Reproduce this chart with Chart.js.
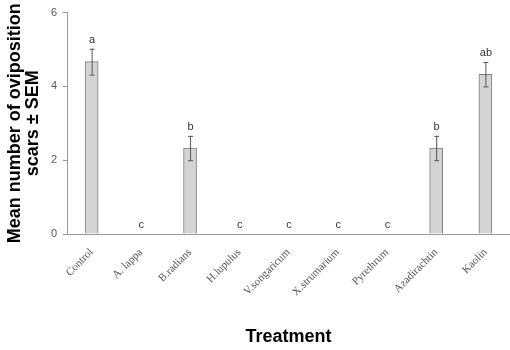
<!DOCTYPE html>
<html lang="en">
<head>
    <meta charset="UTF-8">
    <title>Oviposition scars by treatment</title>
    <script src="https://cdn.jsdelivr.net/npm/chart.js"></script>
    <style>
        body { margin: 0; background: #fff; }
        canvas { display: block; }
    </style>
</head>
<body>
    <canvas id="myChart" width="510" height="350"></canvas>

    <script>
        const treatments = ['Control', 'A. lappa', 'B.radians', 'H.lupulus', 'V.songaricum', 'X.strumarium', 'Pyrethrum', 'Azadirachtin', 'Kaolin'];
        const meanScars = [4.67, 0, 2.33, 0, 0, 0, 0, 2.33, 4.33];
        const semScars = [0.35, 0, 0.33, 0, 0, 0, 0, 0.33, 0.33];
        const groupLetters = ['a', 'c', 'b', 'c', 'c', 'c', 'c', 'b', 'ab'];
        const yTicks = [0, 2, 4, 6];

        // error bars and significance letters
        const errorBars = {
            id: 'errorBars',
            afterDatasetsDraw(chart) {
                const ctx = chart.ctx;
                const y = chart.scales.y;
                const meta = chart.getDatasetMeta(0);
                ctx.save();
                meta.data.forEach((bar, i) => {
                    const x = bar.x;
                    const m = meanScars[i];
                    const s = semScars[i];
                    let top = y.getPixelForValue(m);
                    if (s > 0) {
                        const hi = y.getPixelForValue(m + s);
                        const lo = y.getPixelForValue(m - s);
                        ctx.strokeStyle = '#555';
                        ctx.lineWidth = 1;
                        ctx.beginPath();
                        ctx.moveTo(x + 0.5, hi);
                        ctx.lineTo(x + 0.5, lo);
                        ctx.moveTo(x - 2, hi + 0.5);
                        ctx.lineTo(x + 3, hi + 0.5);
                        ctx.moveTo(x - 2, lo + 0.5);
                        ctx.lineTo(x + 3, lo + 0.5);
                        ctx.stroke();
                        top = hi;
                    }
                    ctx.fillStyle = '#333';
                    ctx.font = '11px "Liberation Sans", Arial, sans-serif';
                    ctx.textAlign = 'center';
                    ctx.textBaseline = 'middle';
                    ctx.fillText(groupLetters[i], x + 0.5, top - 9);
                });
                ctx.restore();
            }
        };

        const ctx = document.getElementById('myChart').getContext('2d');
        new Chart(ctx, {
            type: 'bar',
            data: {
                labels: treatments,
                datasets: [{
                    data: meanScars,
                    backgroundColor: '#d4d4d4',
                    borderColor: '#7f7f7f',
                    borderWidth: 1,
                    barThickness: 13
                }]
            },
            options: {
                responsive: false,
                animation: false,
                layout: { padding: { top: 9, right: 0, left: 0, bottom: 0 } },
                plugins: {
                    legend: { display: false },
                    tooltip: { enabled: false }
                },
                scales: {
                    x: {
                        grid: { display: false },
                        border: { color: '#999' },
                        ticks: {
                            color: '#555',
                            font: { family: '"Liberation Serif", "Times New Roman", serif', size: 11 },
                            minRotation: 45,
                            maxRotation: 45,
                            padding: 4
                        },
                        title: {
                            display: true,
                            text: 'Treatment',
                            color: '#000',
                            font: { family: '"Liberation Sans", Arial, sans-serif', size: 18, weight: 'bold' },
                            padding: { top: 0, bottom: 2 }
                        },
                        afterFit(scale) { scale.height = 116; }
                    },
                    y: {
                        min: 0,
                        max: 6,
                        afterBuildTicks(scale) { scale.ticks = yTicks.map(v => ({ value: v })); },
                        grid: { drawOnChartArea: false, tickLength: 4, color: '#999' },
                        border: { color: '#999' },
                        ticks: {
                            color: '#555',
                            font: { family: '"Liberation Sans", Arial, sans-serif', size: 11 },
                            padding: 6
                        },
                        title: {
                            display: true,
                            text: ['Mean number of oviposition', 'scars ± SEM'],
                            color: '#000',
                            font: { family: '"Liberation Sans", Arial, sans-serif', size: 18, weight: 'bold', lineHeight: 1.0 },
                            padding: { top: 6, bottom: 4 }
                        },
                        afterFit(scale) { scale.width = 67; }
                    }
                }
            },
            plugins: [errorBars]
        });
    </script>
</body>
</html>
